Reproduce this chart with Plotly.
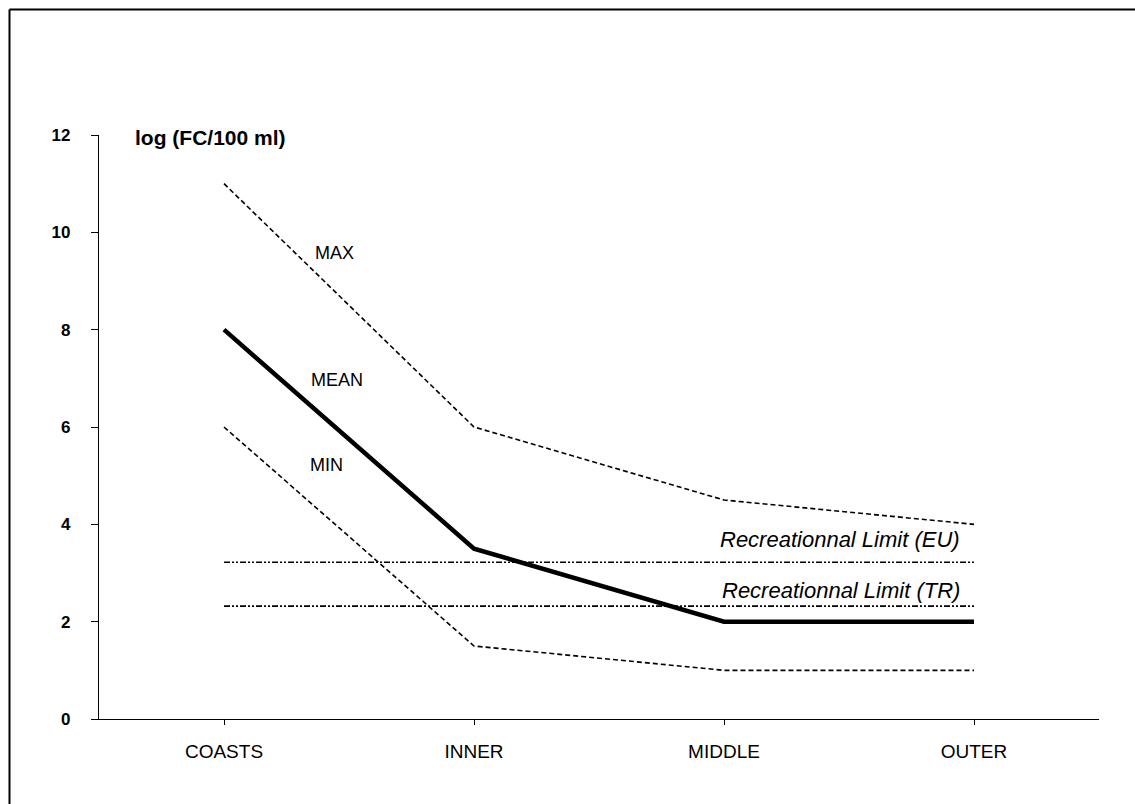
import plotly.graph_objects as go

categories = ["COASTS", "INNER", "MIDDLE", "OUTER"]
max_vals = [11.0, 6.0, 4.5, 4.0]
mean_vals = [8.0, 3.5, 2.0, 2.0]
min_vals = [6.0, 1.5, 1.0, 1.0]
limit_eu = [3.22, 3.22, 3.22, 3.22]
limit_tr = [2.32, 2.32, 2.32, 2.32]
y_ticks = [0, 2, 4, 6, 8, 10, 12]

FONT = "Liberation Sans, Arial, sans-serif"
xi = list(range(len(categories)))

fig = go.Figure()
fig.add_trace(go.Scatter(x=xi, y=max_vals, mode="lines",
                         line=dict(color="black", width=1.6, dash="5px,3px")))
fig.add_trace(go.Scatter(x=xi, y=min_vals, mode="lines",
                         line=dict(color="black", width=1.6, dash="5px,3px")))
fig.add_trace(go.Scatter(x=xi, y=limit_eu, mode="lines",
                         line=dict(color="black", width=1.6, dash="6px,2px,2px,2px,2px,2px")))
fig.add_trace(go.Scatter(x=xi, y=limit_tr, mode="lines",
                         line=dict(color="black", width=1.6, dash="6px,2px,2px,2px,2px,2px")))
fig.add_trace(go.Scatter(x=xi, y=mean_vals, mode="lines",
                         line=dict(color="black", width=4.5)))

W, H = 1135, 804
L, R, T, B = 99, 36, 135, 85
pw, ph = W - L - R, H - T - B

def px_x(p):
    return (p - L) / pw

def px_y(p):
    return (H - B - p) / ph

annotations = [
    dict(text="log (FC/100 ml)", xref="paper", yref="paper", x=px_x(133), y=px_y(137),
         xanchor="left", yanchor="middle", showarrow=False,
         font=dict(family=FONT, size=21, color="black", weight="bold")),
    dict(text="MAX", x=0.44, y=9.57, showarrow=False,
         font=dict(family=FONT, size=18, color="black")),
    dict(text="MEAN", x=0.45, y=6.96, showarrow=False,
         font=dict(family=FONT, size=18, color="black")),
    dict(text="MIN", x=0.41, y=5.22, showarrow=False,
         font=dict(family=FONT, size=18, color="black")),
    dict(text="<i>Recreationnal Limit (EU)</i>", x=2.952, y=3.68, xanchor="right",
         showarrow=False, font=dict(family=FONT, size=22, color="black")),
    dict(text="<i>Recreationnal Limit (TR)</i>", x=2.952, y=2.65, xanchor="right",
         showarrow=False, font=dict(family=FONT, size=22, color="black")),
]

shapes = [
    dict(type="line", xref="paper", yref="paper", x0=px_x(9.5), x1=px_x(9.5),
         y0=px_y(9.5), y1=px_y(H + 2), line=dict(color="black", width=2)),
    dict(type="line", xref="paper", yref="paper", x0=px_x(9.5), x1=px_x(W + 2),
         y0=px_y(9.5), y1=px_y(9.5), line=dict(color="black", width=2)),
]

fig.update_layout(
    width=W, height=H,
    margin=dict(l=L, r=R, t=T, b=B),
    paper_bgcolor="white", plot_bgcolor="white",
    showlegend=False,
    annotations=annotations,
    shapes=shapes,
    xaxis=dict(range=[-0.5, 3.5], tickmode="array", tickvals=xi, ticktext=categories,
               showgrid=False, zeroline=False, showline=True, linecolor="black", linewidth=1.2,
               ticks="outside", ticklen=5, tickcolor="black", tickwidth=1,
               ticklabelstandoff=10,
               tickfont=dict(family=FONT, size=19, color="black")),
    yaxis=dict(range=[0, 12], tickmode="array", tickvals=y_ticks,
               ticktext=[str(v) for v in y_ticks],
               showgrid=False, zeroline=False, showline=True, linecolor="black", linewidth=1.2,
               ticks="outside", ticklen=7, tickcolor="black", tickwidth=1,
               ticklabelstandoff=17,
               tickfont=dict(family=FONT, size=17, color="black", weight="bold")),
)

fig.write_html("out.html")
